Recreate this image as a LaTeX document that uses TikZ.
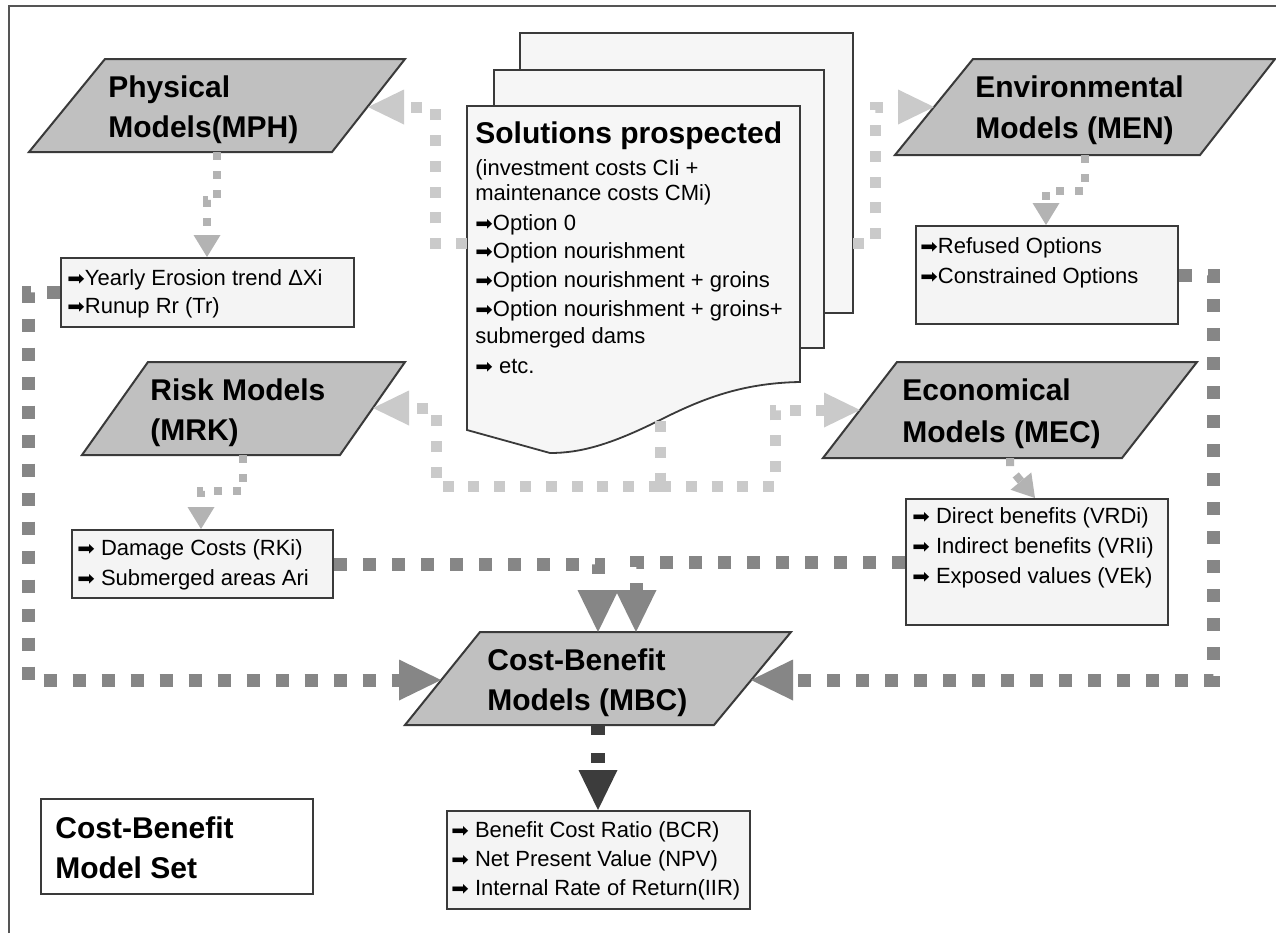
\documentclass[tikz,border=0pt]{standalone}
\usepackage{fontspec}
\setmainfont{Liberation Sans}
\newfontfamily\dejavu{DejaVu Sans}
\usepackage{graphicx}
\usetikzlibrary{arrows.meta}

% small black arrow used as a list bullet
\newcommand\bul{{\dejavu\scalebox{0.95}[0.9]{➡}}}

\definecolor{parafill}{HTML}{C0C0C0}
\definecolor{edge}{HTML}{3A3A3A}
\definecolor{boxfill}{HTML}{F4F4F4}
\definecolor{pagefill}{HTML}{F6F6F6}
\definecolor{lightdot}{HTML}{CACACA}
\definecolor{middot}{HTML}{B3B3B3}
\definecolor{darkdot}{HTML}{868686}
\definecolor{outdot}{HTML}{3C3C3C}
\definecolor{frame}{HTML}{555555}

\begin{document}
\begin{tikzpicture}[x=0.5pt,y=-0.5pt,
  para/.style={fill=parafill, draw=edge, line width=1pt, line join=miter},
  infobox/.style={draw=edge, fill=boxfill, line width=1pt, inner sep=0, anchor=north west},
  page/.style={draw=edge, fill=pagefill, line width=0.9pt},
  lbl/.style={font=\bfseries\fontsize{15pt}{18pt}\selectfont, anchor=base west, inner sep=0},
  bt/.style={font=\fontsize{11pt}{13pt}\selectfont, anchor=base west, inner sep=0},
  lightline/.style={draw=lightdot, line width=5.5pt, dash pattern=on 5.5pt off 7.4pt},
  lightflow/.style={lightline, -{Triangle[length=18pt,width=17.5pt,line width=0pt]}},
  smallflow/.style={draw=middot, line width=4pt, dash pattern=on 4pt off 5.5pt,
    -{Triangle[length=11pt,width=13.5pt,line width=0pt]}},
  darkflow/.style={draw=darkdot, line width=6.5pt, dash pattern=on 6.5pt off 8pt,
    -{Triangle[length=21pt,width=20.5pt,line width=0pt]}},
  outflow/.style={draw=outdot, line width=7pt, dash pattern=on 5pt off 9pt,
    -{Triangle[length=20pt,width=19.5pt,line width=0pt]}}
]
\useasboundingbox (0,0) rectangle (1276,933);
\fill[white] (0,0) rectangle (1276,933);

% outer frame (top and left sides)
\draw[frame, line width=1pt] (9,933) -- (9,6) -- (1276,6);

% ---- stack of solution sheets ----
\draw[page] (520,33) rectangle (853,313);
\draw[page] (494,70) rectangle (824,348);
\draw[page] (467,106) -- (800,106) -- (800,382)
  .. controls (740,383) and (700,400) .. (660,420)
  .. controls (610,445) and (580,453) .. (550,453) -- (467,430) -- cycle;
\coordinate (doc-w) at (467,243);
\coordinate (doc-e) at (853,243);
\coordinate (doc-s) at (660,421);

\node[lbl] (sol-t) at (475,143) {Solutions prospected};
\foreach \yy/\linetext [count=\i] in {
  175/{(investment costs CIi +},
  200/{maintenance costs CMi)},
  230/{\bul Option 0},
  258/{\bul Option nourishment},
  287/{\bul Option nourishment + groins},
  316/{\bul Option nourishment + groins+},
  343/{submerged dams},
  373/{\bul\ etc.}}
  \node[bt] (sol-l\i) at (475,\yy) {\linetext};

% ---- model parallelograms ----
\draw[para] (105,59) -- (405,59) -- (332,152) -- (29,152) -- cycle;
\coordinate (mph-s) at (217,152);
\coordinate (mph-e) at (368,107);
\node[lbl] (mph-t1) at (108,97) {Physical};
\node[lbl] (mph-t2) at (108,137) {Models(MPH)};

\draw[para] (973,59) -- (1275,59) -- (1200,155) -- (895,155) -- cycle;
\coordinate (men-s) at (1085,155);
\coordinate (men-w) at (934,107);
\node[lbl] (men-t1) at (975,97) {Environmental};
\node[lbl] (men-t2) at (975,138) {Models (MEN)};

\draw[para] (148,362) -- (405,362) -- (340,455) -- (82,455) -- cycle;
\coordinate (mrk-s) at (243,455);
\coordinate (mrk-e) at (373,408);
\node[lbl] (mrk-t1) at (150,400) {Risk Models};
\node[lbl] (mrk-t2) at (150,440) {(MRK)};

\draw[para] (897,362) -- (1197,362) -- (1122,458) -- (823,458) -- cycle;
\coordinate (mec-s) at (1010,458);
\coordinate (mec-w) at (860,410);
\node[lbl] (mec-t1) at (902,400) {Economical};
\node[lbl] (mec-t2) at (902,442) {Models (MEC)};

\draw[para] (480,632) -- (791,632) -- (714,725) -- (405,725) -- cycle;
\coordinate (mbc-w) at (441,680);
\coordinate (mbc-e) at (751,680);
\coordinate (mbc-n1) at (598,632);
\coordinate (mbc-n2) at (636,632);
\coordinate (mbc-s) at (598,725);
\node[lbl] (mbc-t1) at (487,670) {Cost-Benefit};
\node[lbl] (mbc-t2) at (487,710) {Models (MBC)};

% ---- result boxes ----
\node[infobox, minimum width=146.5pt, minimum height=34.5pt] (yr) at (60,257) {};
\node[bt] (yr-l1) at (67,285) {\bul Yearly Erosion trend ΔXi};
\node[bt] (yr-l2) at (67,313) {\bul Runup Rr (Tr)};

\node[infobox, minimum width=131pt, minimum height=49pt] (ref) at (915,225) {};
\node[bt] (ref-l1) at (920,253) {\bul Refused Options};
\node[bt] (ref-l2) at (920,283) {\bul Constrained Options};

\node[infobox, minimum width=130.5pt, minimum height=34pt] (dmg) at (71,529) {};
\node[bt] (dmg-l1) at (77,555) {\bul\ Damage Costs (RKi)};
\node[bt] (dmg-l2) at (77,585) {\bul\ Submerged areas Ari};

\node[infobox, minimum width=131pt, minimum height=63pt] (vrd) at (905,498) {};
\node[bt] (vrd-l1) at (912,523) {\bul\ Direct benefits (VRDi)};
\node[bt] (vrd-l2) at (912,553) {\bul\ Indirect benefits (VRIi)};
\node[bt] (vrd-l3) at (912,583) {\bul\ Exposed values (VEk)};

\node[infobox, minimum width=151.5pt, minimum height=49pt] (out) at (446,810) {};
\node[bt] (out-l1) at (451,837) {\bul\ Benefit Cost Ratio (BCR)};
\node[bt] (out-l2) at (451,866) {\bul\ Net Present Value (NPV)};
\node[bt] (out-l3) at (451,895) {\bul\ Internal Rate of Return(IIR)};

\node[infobox, fill=white, minimum width=136pt, minimum height=47.5pt] (mset) at (40,798) {};
\node[lbl] (mset-t1) at (55,838) {Cost-Benefit};
\node[lbl] (mset-t2) at (55,878) {Model Set};

% ---- solutions feeding the four model families ----
\draw[lightflow] (doc-w) -| (435,107) -- (mph-e);
\draw[lightflow] (doc-e) -| (875,107) -- (men-w);
\coordinate (dj) at (660,486);
\draw[lightline] (doc-s) -- (dj);
\draw[lightflow] (dj) -| (436,408) -- (mrk-e);
\draw[lightflow] (dj) -| (775,410) -- (mec-w);

% ---- models to their outputs ----
\draw[smallflow] (mph-s) -- (217,200) -- (207,200) -- (207,0 |- yr.north);
\draw[smallflow] (men-s) -- (1085,191) -- (1046,191) -- (1046,0 |- ref.north);
\draw[smallflow] (mrk-s) -- (243,491) -- (201,491) -- (201,0 |- dmg.north);
\draw[smallflow] (mec-s) -- (1010,468) -- (1035,0 |- vrd.north);

% ---- outputs gathered by the cost-benefit models ----
\draw[darkflow] (yr.west) -| (28,680) -- (mbc-w);
\draw[darkflow] (dmg.east) -| (mbc-n1);
\draw[darkflow] (vrd.west) -| (mbc-n2);
\draw[darkflow] (ref.east) -| (1213,680) -- (mbc-e);
\draw[outflow] (mbc-s) -- (mbc-s |- out.north);
\end{tikzpicture}
\end{document}
